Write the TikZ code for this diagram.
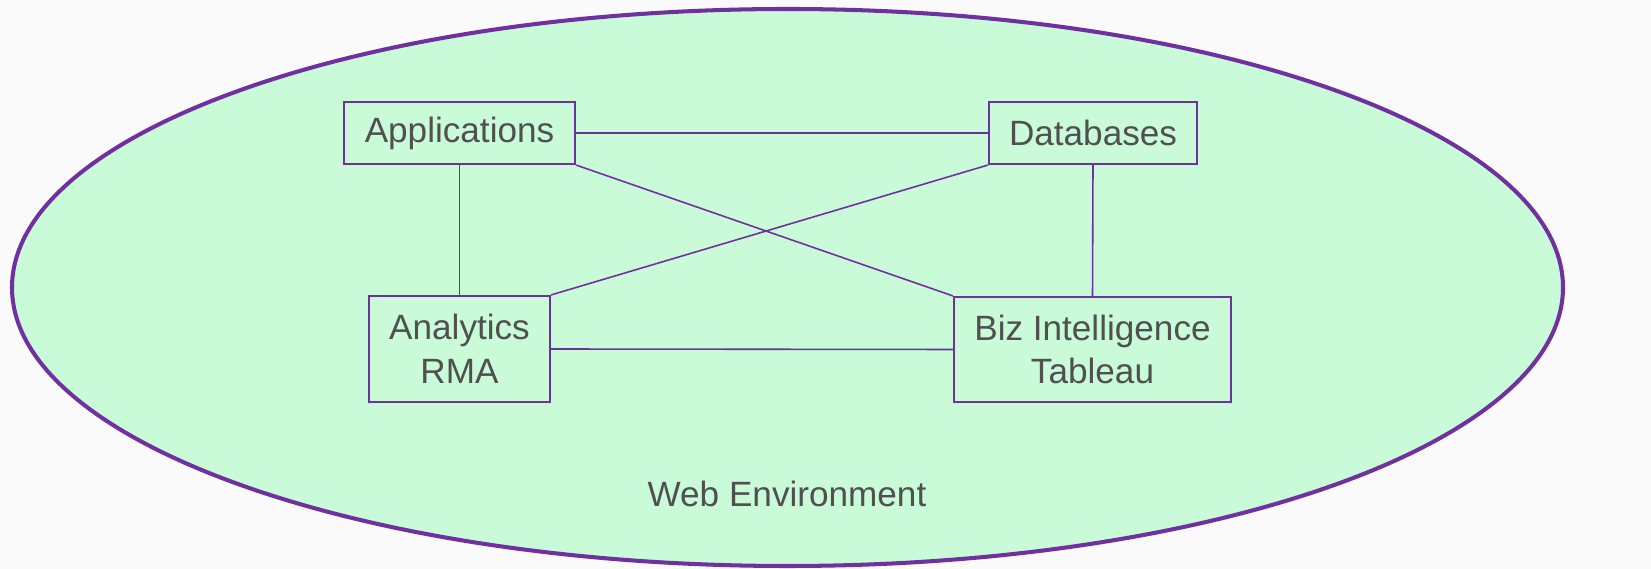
\documentclass[tikz,border=0pt]{standalone}
\usepackage{fontspec}
\setmainfont{Liberation Sans}
\usepackage{tikz}
\usetikzlibrary{positioning,calc}
\usepackage{xcolor}
\definecolor{envpurple}{RGB}{112,48,160}
\definecolor{envgreen}{RGB}{201,251,217}
\definecolor{textgray}{RGB}{80,80,80}
\definecolor{pagegray}{RGB}{250,250,251}

\tikzset{
    sysbox/.style={rectangle,draw=envpurple,line width=0.6pt,fill=envgreen,inner sep=0pt,align=center,text=textgray,font=\fontsize{10pt}{12.4pt}\selectfont},
    link/.style={draw=envpurple,line width=0.45pt}
}

\begin{document}
\begin{tikzpicture}
        % Page and bounding box
        \fill[pagegray] (0,0) rectangle (16.51,5.69);
        \useasboundingbox (0,0) rectangle (16.51,5.69);
        
        % Web environment
        \draw[envpurple,line width=1.15pt,fill=envgreen] (7.875,2.815) ellipse [x radius=7.755,y radius=2.785];
        \node[text=textgray,font=\fontsize{10pt}{12pt}\selectfont] (web) at (7.87,0.75) {Web Environment};
        
        % Systems
        \node[sysbox,minimum width=2.31cm,minimum height=0.62cm] (app) at (4.595,4.36) {Applications};
        \node[sysbox,minimum width=2.08cm,minimum height=0.62cm] (db) at (10.93,4.36) {Databases};
        \node[sysbox,minimum width=1.81cm,minimum height=1.06cm] (ana) at (4.595,2.20) {Analytics\\RMA};
        \node[sysbox,minimum width=2.77cm,minimum height=1.05cm] (biz) at (10.925,2.195) {Biz Intelligence\\Tableau};
        
        % Links
        \draw[link] (app.east) -- (db.west);
        \draw[link] (app.south) -- (ana.north);
        \draw[link] (db.south) -- (biz.north);
        \draw[link] (app.south east) -- (biz.north west);
        \draw[link] (db.south west) -- (ana.north east);
        \draw[link] (ana.east) -- (biz.west);
    \end{tikzpicture}
\end{document}
